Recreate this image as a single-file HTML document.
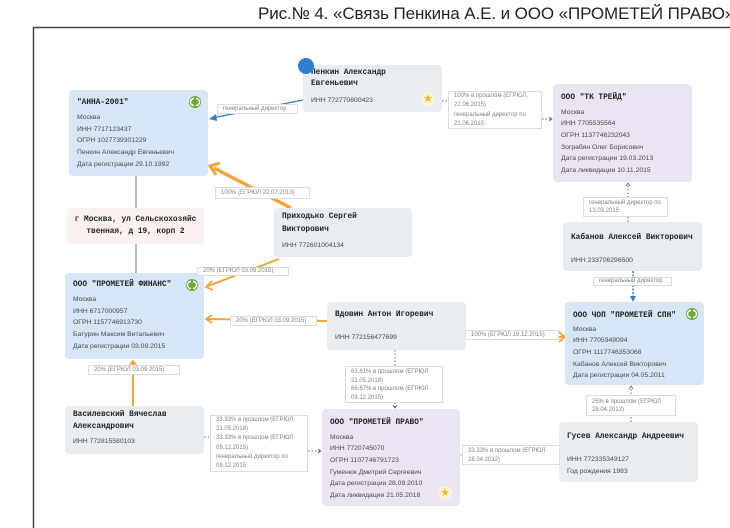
<!DOCTYPE html>
<html><head><meta charset="utf-8">
<style>
html,body{margin:0;padding:0;background:#fff;}
#c{position:relative;width:730px;height:528px;overflow:hidden;background:#fff;}
.t{position:absolute;left:258px;top:3px;font:17px/22px "Liberation Sans","Noto Sans CJK SC",sans-serif;color:#222;white-space:nowrap;letter-spacing:-0.1px;}
.b{position:absolute;border-radius:4px;}
.blue{background:#d6e6f6;}
.gray{background:#e7edf0;}
.lav{background:#ebe5f3;}
.n{position:absolute;left:8px;font:bold 7.8px/9px "Liberation Mono","DejaVu Sans Mono",monospace;color:#222;white-space:nowrap;}
.d{position:absolute;left:8px;font:6.8px/11.7px "Liberation Sans",sans-serif;color:#4a4a4a;white-space:nowrap;}
.l{position:absolute;background:#fff;border:1px solid #dcdcdc;box-sizing:border-box;font:6px/9px "Liberation Sans",sans-serif;color:#808080;white-space:nowrap;padding-left:5px;}
.addr{position:absolute;left:67px;top:208px;width:137px;height:36px;background:#fbf1f1;border-radius:3px;font:bold 7.8px/12px "Liberation Mono","DejaVu Sans Mono",monospace;color:#222;text-align:center;box-sizing:border-box;padding-top:6px;}
.ic{position:absolute;width:12px;height:12px;}
.st{position:absolute;width:14px;height:14px;border-radius:50%;background:#fbf1d6;color:#f2b632;font:11px/14px "DejaVu Sans",sans-serif;text-align:center;}
svg{position:absolute;left:0;top:0;}
</style></head><body>
<div id="c">
<div class="t">Рис.№ 4. «Связь Пенкина А.Е. и ООО «ПРОМЕТЕЙ ПРАВО»</div>

<svg width="730" height="528" viewBox="0 0 730 528">
  <line x1="33.5" y1="27" x2="33.5" y2="528" stroke="#444" stroke-width="1.5"/>
  <line x1="33" y1="27.5" x2="730" y2="27.5" stroke="#444" stroke-width="1.5"/>
  <line x1="136" y1="176" x2="136" y2="208" stroke="#777" stroke-width="1"/>
  <line x1="136" y1="244" x2="136" y2="273" stroke="#777" stroke-width="1"/>
  <line x1="303" y1="100" x2="212" y2="118" stroke="#2f7fc0" stroke-width="1.4"/>
  <polygon points="209,119 216,114 217,121" fill="#2f7fc0"/>
  <line x1="291" y1="208" x2="214" y2="168" stroke="#f2a43c" stroke-width="3.5"/>
  <polyline points="220,163 210,166 216,175" fill="none" stroke="#f2a43c" stroke-width="3"/>
  <line x1="279" y1="259" x2="208" y2="286" stroke="#f2a43c" stroke-width="2"/>
  <polyline points="212,281 206,287 213,290" fill="none" stroke="#f2a43c" stroke-width="1.8"/>
  <line x1="327" y1="321" x2="208" y2="319" stroke="#f2a43c" stroke-width="2"/>
  <polyline points="212,315 206,319 212,323" fill="none" stroke="#f2a43c" stroke-width="1.8"/>
  <line x1="133" y1="406" x2="133" y2="362" stroke="#f2a43c" stroke-width="2"/>
  <polyline points="129,366 133,361 137,366" fill="none" stroke="#f2a43c" stroke-width="1.8"/>
  <line x1="466" y1="336" x2="563" y2="337" stroke="#f2a43c" stroke-width="2"/>
  <polyline points="559,332 565,337 559,342" fill="none" stroke="#f2a43c" stroke-width="1.8"/>
  <line x1="395" y1="350" x2="395" y2="408" stroke="#666" stroke-width="1" stroke-dasharray="1.5,2"/>
  <polyline points="393,405 395,408 397,405" fill="none" stroke="#666" stroke-width="0.8"/>
  <line x1="442" y1="101" x2="448" y2="101" stroke="#666" stroke-width="1" stroke-dasharray="1.5,2"/>
  <line x1="542" y1="119" x2="552" y2="119" stroke="#666" stroke-width="1" stroke-dasharray="1.5,2"/>
  <polyline points="549,117 552,119 549,121" fill="none" stroke="#666" stroke-width="0.8"/>
  <line x1="628" y1="222" x2="628" y2="183" stroke="#666" stroke-width="1" stroke-dasharray="1.5,2"/>
  <polyline points="626,186 628,183 630,186" fill="none" stroke="#666" stroke-width="0.8"/>
  <line x1="633" y1="271" x2="633" y2="298" stroke="#2f7fc0" stroke-width="1.5" stroke-dasharray="2,1.5"/>
  <polygon points="630,296 636,296 633,302" fill="#2f7fc0"/>
  <line x1="631" y1="422" x2="631" y2="386" stroke="#666" stroke-width="1" stroke-dasharray="1.5,2"/>
  <polyline points="629,389 631,386 633,389" fill="none" stroke="#666" stroke-width="0.8"/>
  <line x1="460" y1="455" x2="559" y2="455" stroke="#bbb" stroke-width="1"/>
  <line x1="204" y1="437" x2="210" y2="437" stroke="#666" stroke-width="1" stroke-dasharray="1.5,2"/>
  <line x1="308" y1="451" x2="321" y2="451" stroke="#666" stroke-width="1" stroke-dasharray="1.5,2"/>
  <polyline points="318,449 321,451 318,453" fill="none" stroke="#666" stroke-width="0.8"/>
</svg>

<div class="b blue" style="left:69px;top:90px;width:139px;height:86px;">
  <div class="n" style="top:9px;">"АННА-2001"</div>
  <div class="d" style="top:22px;">Москва<br>ИНН 7717123437<br>ОГРН 1027739301229<br>Пенкин Александр Евгеньевич<br>Дата регистрации 29.10.1992</div>
  <svg class="ic" style="left:120px;top:6px;" width="12" height="12" viewBox="0 0 12 12"><circle cx="6" cy="6" r="6" fill="#6aab3a"/><path d="M5 2.5 A3.5 3.5 0 0 0 5 9.5 M7 2.5 A3.5 3.5 0 0 1 7 9.5" fill="none" stroke="#fff" stroke-width="1.4"/></svg>
</div>

<div class="addr">г Москва, ул Сельскохозяйс<br>твенная, д 19, корп 2</div>

<div class="b blue" style="left:65px;top:273px;width:139px;height:86px;">
  <div class="n" style="top:8px;">ООО "ПРОМЕТЕЙ ФИНАНС"</div>
  <div class="d" style="top:21px;">Москва<br>ИНН 6717000957<br>ОГРН 1157746913730<br>Батурин Максим Витальевич<br>Дата регистрации 03.09.2015</div>
  <svg class="ic" style="left:121px;top:6px;" width="12" height="12" viewBox="0 0 12 12"><circle cx="6" cy="6" r="6" fill="#6aab3a"/><path d="M5 2.5 A3.5 3.5 0 0 0 5 9.5 M7 2.5 A3.5 3.5 0 0 1 7 9.5" fill="none" stroke="#fff" stroke-width="1.4"/></svg>
</div>

<div class="b gray" style="left:303px;top:65px;width:139px;height:47px;">
  <div class="n" style="top:3px;line-height:11px;">Пенкин Александр<br>Евгеньевич</div>
  <div class="d" style="top:31px;line-height:10px;">ИНН 772770600423</div>
  <div class="st" style="left:118px;top:27px;">★</div>
</div>
<div style="position:absolute;left:298px;top:58px;width:16px;height:16px;border-radius:50%;background:#2d7fd0;"></div>

<div class="b gray" style="left:274px;top:208px;width:138px;height:49px;">
  <div class="n" style="top:3px;line-height:13px;">Приходько Сергей<br>Викторович</div>
  <div class="d" style="top:33px;line-height:10px;">ИНН 772601004134</div>
</div>

<div class="b gray" style="left:327px;top:302px;width:139px;height:48px;">
  <div class="n" style="top:8.5px;">Вдовин Антон Игоревич</div>
  <div class="d" style="top:31px;line-height:10px;">ИНН 772156477699</div>
</div>

<div class="b gray" style="left:65px;top:406px;width:139px;height:48px;">
  <div class="n" style="top:3px;line-height:12px;">Василевский Вячеслав<br>Александрович</div>
  <div class="d" style="top:31px;line-height:10px;">ИНН 772815580103</div>
</div>

<div class="b lav" style="left:553px;top:84px;width:139px;height:98px;">
  <div class="n" style="top:9.5px;">ООО "ТК ТРЕЙД"</div>
  <div class="d" style="top:22.5px;">Москва<br>ИНН 7705535564<br>ОГРН 1137746232043<br>Зограбян Олег Борисович<br>Дата регистрации 19.03.2013<br>Дата ликвидации 10.11.2015</div>
</div>

<div class="b gray" style="left:563px;top:222px;width:139px;height:49px;">
  <div class="n" style="top:11.5px;">Кабанов Алексей Викторович</div>
  <div class="d" style="top:34px;line-height:10px;">ИНН 233706296500</div>
</div>

<div class="b blue" style="left:565px;top:302px;width:139px;height:83px;">
  <div class="n" style="top:9.5px;">ООО ЧОП "ПРОМЕТЕЙ СПН"</div>
  <div class="d" style="top:21.5px;">Москва<br>ИНН 7705949094<br>ОГРН 1117746353068<br>Кабанов Алексей Викторович<br>Дата регистрации 04.05.2011</div>
  <svg class="ic" style="left:121px;top:6px;" width="12" height="12" viewBox="0 0 12 12"><circle cx="6" cy="6" r="6" fill="#6aab3a"/><path d="M5 2.5 A3.5 3.5 0 0 0 5 9.5 M7 2.5 A3.5 3.5 0 0 1 7 9.5" fill="none" stroke="#fff" stroke-width="1.4"/></svg>
</div>

<div class="b lav" style="left:322px;top:409px;width:138px;height:97px;">
  <div class="n" style="top:9.5px;">ООО "ПРОМЕТЕЙ ПРАВО"</div>
  <div class="d" style="top:22.5px;">Москва<br>ИНН 7720745070<br>ОГРН 1107746791723<br>Гуменюк Дмитрий Сергеевич<br>Дата регистрации 28.09.2010<br>Дата ликвидации 21.05.2018</div>
  <div class="st" style="left:116px;top:77px;">★</div>
</div>

<div class="b gray" style="left:559px;top:422px;width:139px;height:60px;">
  <div class="n" style="top:10.5px;">Гусев Александр Андреевич</div>
  <div class="d" style="top:32px;line-height:12px;">ИНН 772335349127<br>Год рождения 1983</div>
</div>

<div class="l" style="left:217px;top:104px;width:81px;height:10px;line-height:8px;">генеральный директор</div>
<div class="l" style="left:215px;top:187px;width:95px;height:12px;line-height:10px;">100% (ЕГРЮЛ 22.07.2013)</div>
<div class="l" style="left:197px;top:267px;width:92px;height:9px;line-height:7px;">20% (ЕГРЮЛ 03.09.2015)</div>
<div class="l" style="left:230px;top:316px;width:87px;height:10px;line-height:8px;">20% (ЕГРЮЛ 03.09.2015)</div>
<div class="l" style="left:88px;top:365px;width:92px;height:10px;line-height:8px;">20% (ЕГРЮЛ 03.09.2015)</div>
<div class="l" style="left:465px;top:330px;width:94px;height:10px;line-height:8px;">100% (ЕГРЮЛ 19.12.2015)</div>
<div class="l" style="left:345px;top:366px;width:98px;height:37px;line-height:8.7px;padding-top:1px;">63.61% в прошлом (ЕГРЮЛ<br>21.05.2018)<br>66.67% в прошлом (ЕГРЮЛ<br>09.12.2015)</div>
<div class="l" style="left:448px;top:91px;width:94px;height:38px;line-height:9.3px;padding-top:0px;">100% в прошлом (ЕГРЮЛ,<br>22.06.2015)<br>генеральный директор по<br>21.06.2015</div>
<div class="l" style="left:583px;top:197px;width:85px;height:20px;line-height:7.5px;padding-top:2px;">генеральный директор по<br>13.03.2015</div>
<div class="l" style="left:593px;top:277px;width:79px;height:9px;line-height:7px;">генеральный директор</div>
<div class="l" style="left:586px;top:395px;width:90px;height:21px;line-height:8px;padding-top:2px;">25% в прошлом (ЕГРЮЛ<br>28.04.2012)</div>
<div class="l" style="left:462px;top:445px;width:98px;height:20px;line-height:8.5px;padding-top:1px;">33.33% в прошлом (ЕГРЮЛ<br>28.04.2012)</div>
<div class="l" style="left:210px;top:415px;width:98px;height:57px;line-height:9.2px;padding-top:0px;">33.33% в прошлом (ЕГРЮЛ<br>21.05.2018)<br>33.33% в прошлом (ЕГРЮЛ<br>09.12.2015)<br>генеральный директор по<br>09.12.2015</div>
</div>
</body></html>
